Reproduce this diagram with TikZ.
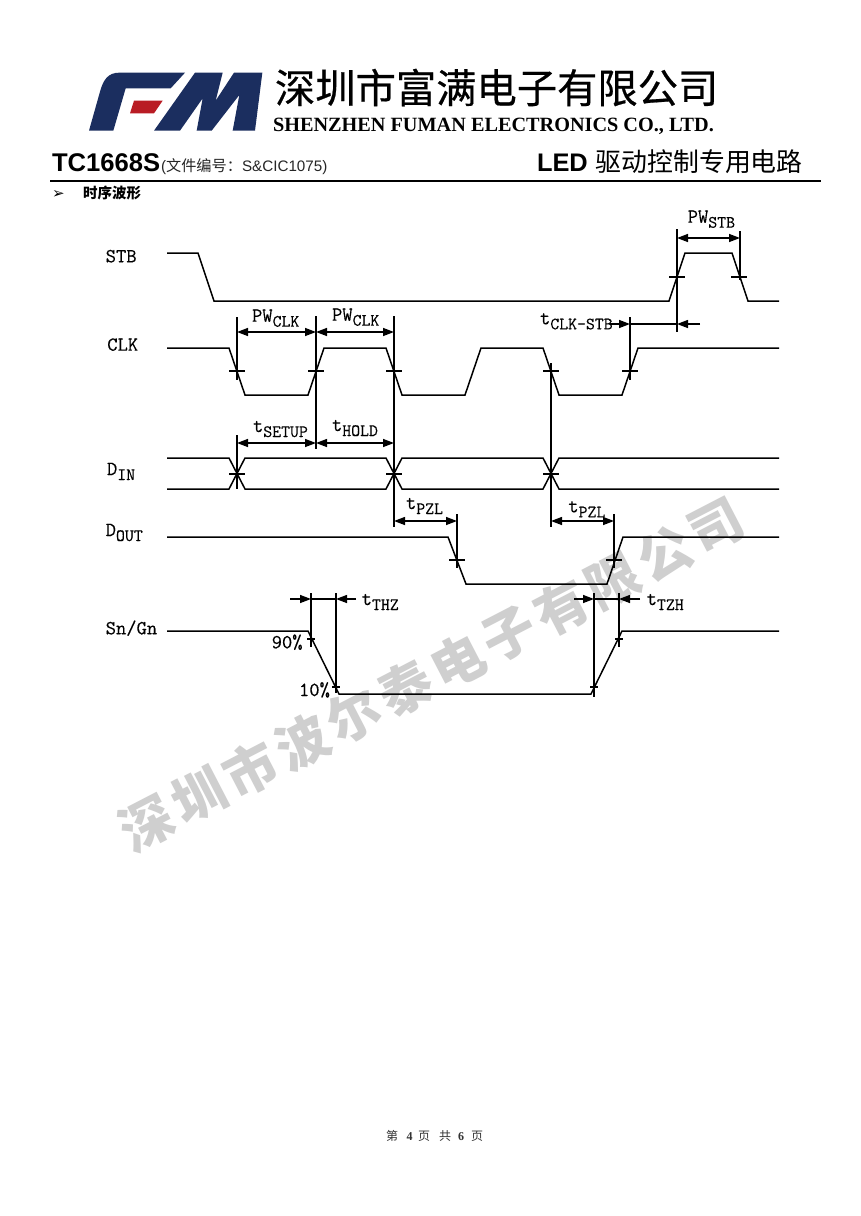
\documentclass[tikz,border=0pt]{standalone}
\usepackage{fontspec}
\usetikzlibrary{arrows.meta}
\setmainfont{Liberation Serif}
\setsansfont{Liberation Sans}
\setmonofont[FakeBold=0.25]{Latin Modern Mono}
\newfontfamily\cjk{Noto Sans CJK SC}
\newfontfamily\cjkheavy[FakeBold=0.5]{Noto Sans CJK SC}
\newfontfamily\dejavu{DejaVu Sans}
\newcommand{\fsz}[1]{\fontsize{#1}{#1}\selectfont}
\newcommand{\subt}[1]{\raisebox{-5pt}{\fsz{17.3}#1}}
\definecolor{navy}{HTML}{1B2E5F}
\definecolor{logored}{HTML}{B91C24}
\definecolor{wm}{HTML}{CFCFCF}
\tikzset{
  wave/.style={line width=1.5pt,line join=miter},
  guide/.style={line width=1.4pt},
  tick/.style={line width=1.3pt},
  dim/.style={line width=1.4pt,{Triangle[length=11pt,width=8pt]}-{Triangle[length=11pt,width=8pt]}},
  dimr/.style={line width=1.4pt,-{Triangle[length=11pt,width=8pt]}},
  lab/.style={inner sep=0pt,outer sep=0pt,anchor=base west,font=\ttfamily\fsz{20}},
  head/.style={inner sep=0pt,outer sep=0pt,anchor=base west},
  wmk/.style={inner sep=0pt,text=wm,font=\cjk\bfseries\fsz{53},rotate=27.4}
}
\begin{document}
\begin{tikzpicture}[x=1pt,y=-1pt]
\useasboundingbox (0,0) rectangle (860,1216);
\fill[white] (0,0) rectangle (860,1216);
% watermark
\foreach \ch [count=\i from 0] in {深,圳,市,波,尔,泰,电,子,有,限,公,司}{
  \node[wmk] (wm\i) at ({147+\i*51.8},{823-\i*26.9}) {\ch};
}
% logo
\begin{scope}[shift={(80,60)},x=0.33333pt,y=-0.33333pt]
\fill[navy] (27,212) -- (60,95) .. controls (70,58) and (85,38) .. (118,38) -- (315,38) -- (272,85) -- (137,85) -- (100,212) -- cycle;
\fill[navy] (222,212) -- (345,38) -- (428,38) -- (407,122) -- (462,38) -- (547,38) -- (525,212) -- (458,212) -- (478,105) -- (395,212) -- (350,212) -- (368,115) -- (300,212) -- cycle;
\fill[logored] (162,122) -- (248,122) -- (222,160) -- (150,160) -- cycle;
\end{scope}
% header
\node[head,font=\cjkheavy\fsz{40.3}] (title) at (275,103) {深圳市富满电子有限公司};
\node[head,font=\bfseries\fsz{20.25}] (titleen) at (273,131.5) {SHENZHEN FUMAN ELECTRONICS CO., LTD.};
\node[head,font=\sffamily\bfseries\fsz{25.6}] (part) at (52,171.5) {TC1668S};
\node[head,font=\sffamily\fsz{15.2},text=black!85] (docno) at (161,171.5) {({\cjk 文件编号：}S\&CIC1075)};
\node[head,font=\sffamily\bfseries\fsz{25.4}] (led) at (537,171.5) {LED};
\node[head,font=\cjk\fsz{25.9}] (ledcn) at (595.5,171.5) {驱动控制专用电路};
\draw[line width=1.6pt] (50,181) -- (821,181);
\node[head,font=\dejavu\fsz{15}] (bul) at (52,198.5) {➢};
\node[head,font=\cjk\bfseries\fsz{14.5}] (sec) at (83,198.5) {时序波形};
% footer
\foreach \nm/\xx/\tx in {fa/386/第,fc/418/页,fd/439/共,ff/471/页}{
  \node[head,font=\cjk\fsz{12},text=black!80] (\nm) at (\xx,1140) {\tx};
}
\node[head,font=\bfseries\fsz{12},text=black!80] (fb) at (406.5,1140) {4};
\node[head,font=\bfseries\fsz{12},text=black!80] (fe) at (458,1140) {6};
% signal labels
\node[lab] (stb) at (105.7,262.3) {STB};
\node[lab] (clk) at (107.3,350.7) {CLK};
\node[lab] (din) at (107,475) {D\subt{IN}};
\node[lab] (dout) at (105.7,536) {D\subt{OUT}};
\node[lab] (sngn) at (105.7,634.3) {Sn/Gn};
\node[lab] (pw1) at (252,321.7) {PW\subt{CLK}};
\node[lab] (pw2) at (332,320.7) {PW\subt{CLK}};
\node[lab] (setup) at (253,432) {t\subt{SETUP}};
\node[lab] (hold) at (332,431) {t\subt{HOLD}};
\node[lab] (pwstb) at (687.7,222.7) {PW\subt{STB}};
\node[lab] (tcs) at (540,324.3) {t\subt{CLK-STB}};
\node[lab] (pzl1) at (406,509) {t\subt{PZL}};
\node[lab] (pzl2) at (568.3,512.3) {t\subt{PZL}};
\node[lab] (thz) at (361.7,605) {t\subt{THZ}};
\node[lab] (tzh) at (646.7,605) {t\subt{TZH}};
\node[lab] (p90) at (271.7,648.3) {90\%};
\node[lab] (p10) at (299,696) {10\%};
% waveforms
\draw[wave] (167,253) -- (198,253) -- (214,301) -- (669,301) -- (685,253) -- (732,253) -- (748,301) -- (779,301);
\draw[wave] (167,348) -- (229,348) -- (245,395) -- (308,395) -- (324,348) -- (386,348) -- (402,395) -- (465,395) -- (481,348) -- (543,348) -- (559,395) -- (622,395) -- (638,348) -- (779,348);
\draw[wave] (167,458) -- (229,458) -- (245,489) -- (386,489) -- (402,458) -- (543,458) -- (559,489) -- (779,489);
\draw[wave] (167,489) -- (229,489) -- (245,458) -- (386,458) -- (402,489) -- (543,489) -- (559,458) -- (779,458);
\draw[wave] (167,537) -- (448,537) -- (466,584) -- (607,584) -- (623,537) -- (779,537);
\draw[wave] (167,631) -- (308,631) -- (339,694) -- (591,694) -- (622,631) -- (779,631);
% guide lines
\draw[guide] (237,317) -- (237,380);
\draw[guide] (237,435) -- (237,489);
\draw[guide] (316,316) -- (316,449);
\draw[guide] (394,316) -- (394,527);
\draw[guide] (551,363) -- (551,527);
\draw[guide] (677,229) -- (677,332);
\draw[guide] (740,231) -- (740,280);
\draw[guide] (630,317) -- (630,380);
\draw[guide] (457,514) -- (457,568);
\draw[guide] (614,514) -- (614,568);
\draw[guide] (311,593) -- (311,647);
\draw[guide] (336,593) -- (336,693);
\draw[guide] (594,593) -- (594,697);
\draw[guide] (619,593) -- (619,647);
% ticks
\foreach \xx/\yy in {237/371,316/371,394/371,551/371,630/371,237/474,394/474,551/474,677/277,739/277,457/560,614/560}{
  \draw[tick] ({\xx-8},\yy) -- ({\xx+8},\yy);
}
\foreach \xx/\yy in {311/639,336/687,594/687,619/639}{
  \draw[tick] ({\xx-4},\yy) -- ({\xx+4},\yy);
}
% dimension arrows
\draw[dim] (237,332) -- (316,332);
\draw[dim] (316,332) -- (394,332);
\draw[dim] (237,443) -- (316,443);
\draw[dim] (316,443) -- (394,443);
\draw[dim] (677,238) -- (740,238);
\draw[dim] (394,521) -- (457,521);
\draw[dim] (551,521) -- (614,521);
\draw[dimr] (610,324) -- (630,324);
\draw[guide] (630,324) -- (677,324);
\draw[dimr] (700,324) -- (677,324);
\draw[dimr] (290,599) -- (311,599);
\draw[guide] (311,599) -- (336,599);
\draw[dimr] (356,599) -- (336,599);
\draw[dimr] (574,599) -- (594,599);
\draw[guide] (594,599) -- (619,599);
\draw[dimr] (640,599) -- (619,599);
\end{tikzpicture}
\end{document}
